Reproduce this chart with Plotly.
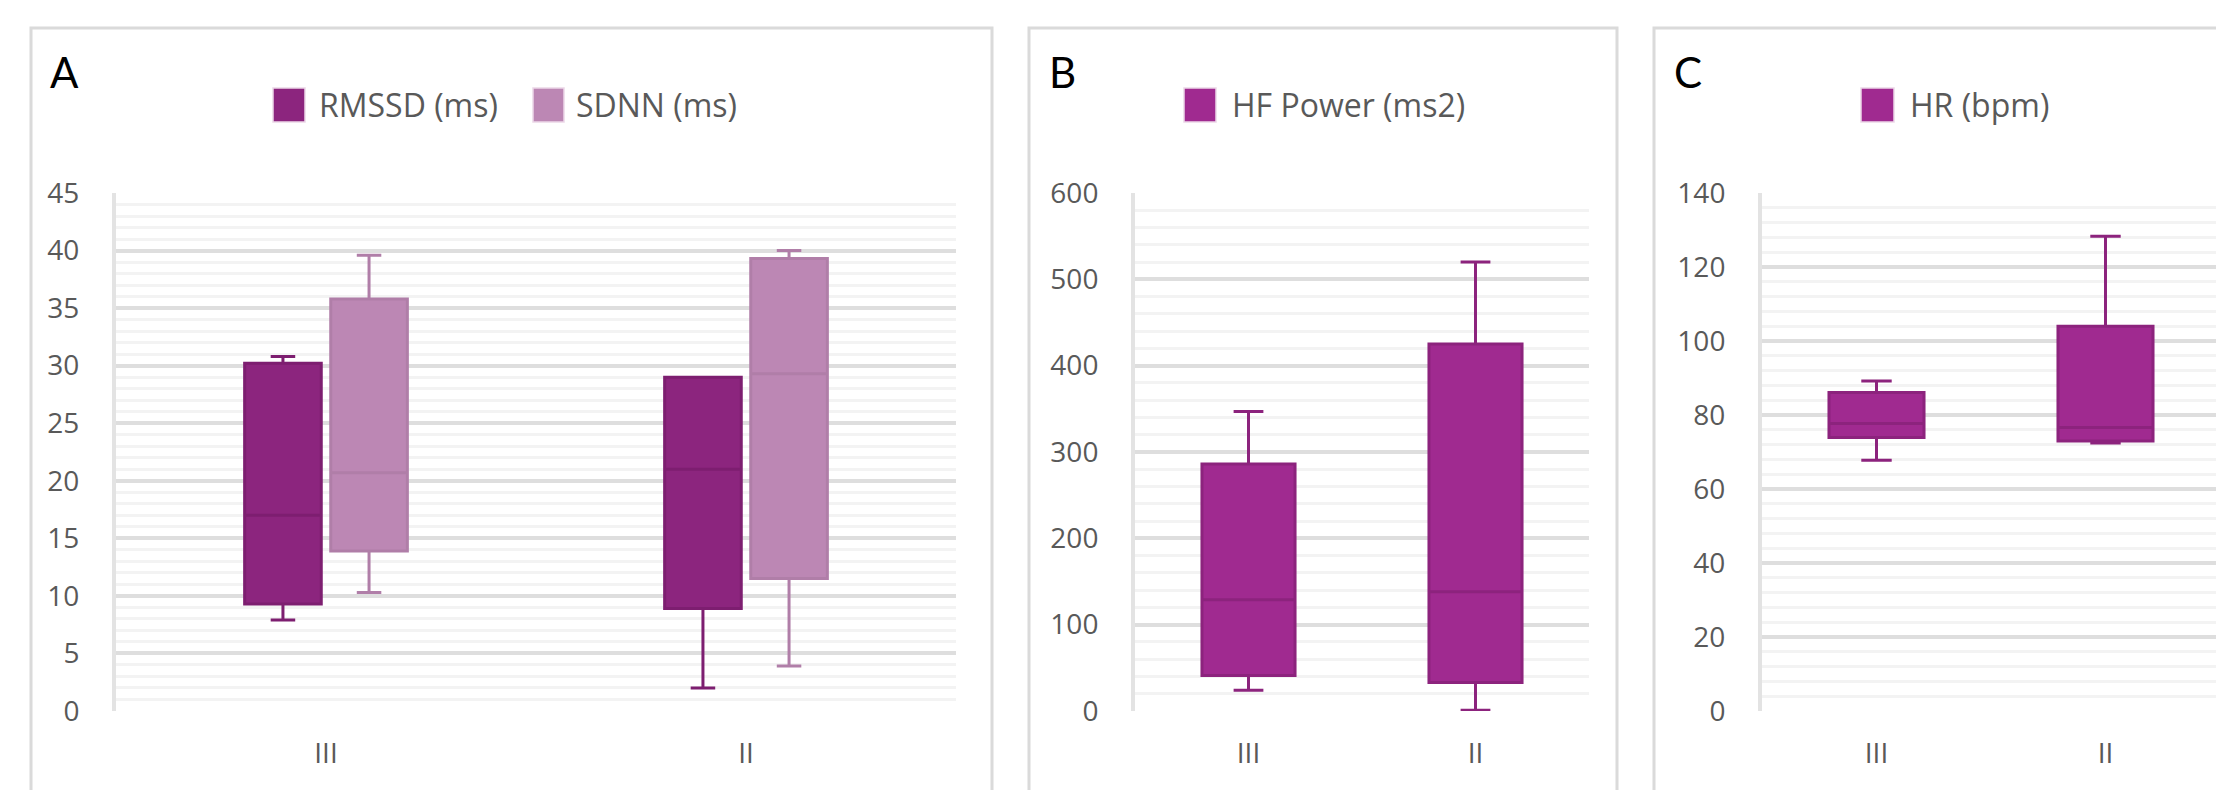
import plotly.graph_objects as go

# window is 2224x790; the page body has an 8px margin, so the figure is
# made 8px smaller and all pixel targets are shifted by 8px.
WIN_W, WIN_H = 2224, 790
OFF = 8
W, H = WIN_W - OFF, WIN_H - OFF

# ---------------- data ----------------
categories = ["III", "II"]

rmssd_min = [7.9, 2.0]
rmssd_q1 = [9.3, 8.9]
rmssd_med = [17.0, 21.0]
rmssd_q3 = [30.2, 29.0]
rmssd_max = [30.8, 29.0]

sdnn_min = [10.3, 3.9]
sdnn_q1 = [13.9, 11.5]
sdnn_med = [20.7, 29.3]
sdnn_q3 = [35.8, 39.3]
sdnn_max = [39.6, 40.0]

hf_min = [24, 1]
hf_q1 = [41, 33]
hf_med = [129, 138]
hf_q3 = [286, 425]
hf_max = [347, 520]

hr_min = [67.8, 72.4]
hr_q1 = [73.9, 73.0]
hr_med = [77.7, 76.6]
hr_q3 = [86.1, 104.0]
hr_max = [89.2, 128.3]

# ---------------- styles ----------------
C_RMSSD = "#8C257E"
C_RMSSD_LINE = "#7D1E70"
C_SDNN = "#BC87B4"
C_SDNN_LINE = "#B07EA8"
C_HF = "#A02A90"
C_HF_LINE = "#8C237D"

TXT = "#595959"
FONT = "Open Sans"
MAJ = "#DEDEDE"
MIN = "#F3F3F3"


def px(x):
    return (x - OFF) / W


def py(y):
    return 1 - (y - OFF) / H


fig = go.Figure()


def add_box(name, q1, med, q3, lo, hi, fill, line, xa, ya, width=None, og=None, ag=None):
    kw = {}
    if width is not None:
        kw["width"] = width
    if og is not None:
        kw["offsetgroup"] = og
        kw["alignmentgroup"] = ag
    fig.add_trace(go.Box(
        name=name, x=categories, q1=q1, median=med, q3=q3,
        lowerfence=lo, upperfence=hi, boxpoints=False,
        fillcolor=fill, line=dict(color=line, width=3),
        whiskerwidth=0.32, xaxis=xa, yaxis=ya, showlegend=False,
        hoverinfo="skip", **kw))


add_box("RMSSD (ms)", rmssd_q1, rmssd_med, rmssd_q3, rmssd_min, rmssd_max,
        C_RMSSD, C_RMSSD_LINE, "x", "y", og="rmssd", ag="A")
add_box("SDNN (ms)", sdnn_q1, sdnn_med, sdnn_q3, sdnn_min, sdnn_max,
        C_SDNN, C_SDNN_LINE, "x", "y", og="sdnn", ag="A")
add_box("HF Power (ms2)", hf_q1, hf_med, hf_q3, hf_min, hf_max,
        C_HF, C_HF_LINE, "x2", "y2", width=0.41)
add_box("HR (bpm)", hr_q1, hr_med, hr_q3, hr_min, hr_max,
        C_HF, C_HF_LINE, "x3", "y3", width=0.415)

ydom = [py(711), py(193)]


def xaxis(dom, anchor):
    return dict(domain=dom, anchor=anchor, type="category",
                categoryorder="array", categoryarray=categories,
                range=[-0.5, 1.5], automargin=False,
                showgrid=False, zeroline=False, showline=False,
                ticks="", ticklabelstandoff=23,
                tickfont=dict(family=FONT, size=28, color=TXT))


def yaxis(anchor, rng, dt, mdt):
    return dict(domain=ydom, anchor=anchor, range=rng, dtick=dt, automargin=False,
                showgrid=True, gridcolor=MAJ, gridwidth=4,
                minor=dict(dtick=mdt, showgrid=True, gridcolor=MIN, gridwidth=3),
                zeroline=False, showline=True, linecolor="#E3E3E3", linewidth=4,
                ticks="", ticklabelstandoff=27,
                tickfont=dict(family=FONT, size=28, color=TXT))


fig.update_layout(
    width=W, height=H,
    margin=dict(l=0, r=0, t=0, b=0, pad=0),
    paper_bgcolor="white", plot_bgcolor="white",
    boxmode="group", boxgap=0.59, boxgroupgap=0.11,
    showlegend=False,
    xaxis=xaxis([px(116), px(956)], "y"),
    yaxis=yaxis("x", [0, 45], 5, 1),
    xaxis2=xaxis([px(1135), px(1589)], "y2"),
    yaxis2=yaxis("x2", [0, 600], 100, 20),
    xaxis3=xaxis([px(1762), px(2220)], "y3"),
    yaxis3=yaxis("x3", [0, 140], 20, 4),
)

shapes = []
# panel frames
for x0, x1 in [(31, 992), (1029, 1617), (1654, 2320)]:
    shapes.append(dict(type="rect", xref="paper", yref="paper",
                       x0=px(x0), x1=px(x1), y0=-0.2, y1=py(28),
                       line=dict(color="#DADADA", width=3), fillcolor="rgba(0,0,0,0)",
                       layer="below"))

annotations = []
# panel letters
for letter, x in [("A", 48), ("B", 1047), ("C", 1672)]:
    annotations.append(dict(text=letter, xref="paper", yref="paper",
                            x=px(x), y=py(72), xanchor="left", yanchor="middle",
                            showarrow=False,
                            font=dict(family="Lato", size=42, color="black")))

# legends
legend_items = [
    ("RMSSD (ms)", C_RMSSD, 273, 305, 317),
    ("SDNN (ms)", C_SDNN, 533, 564, 574),
    ("HF Power (ms2)", C_HF, 1184, 1216, 1230),
    ("HR (bpm)", C_HF, 1861, 1894, 1908),
]
for label, col, sx0, sx1, tx in legend_items:
    shapes.append(dict(type="rect", xref="paper", yref="paper",
                       x0=px(sx0), x1=px(sx1), y0=py(122), y1=py(88),
                       fillcolor=col, line=dict(color="#EBD7E8", width=1.5)))
    annotations.append(dict(text=label, xref="paper", yref="paper",
                            x=px(tx), y=py(105), xanchor="left", yanchor="middle",
                            showarrow=False,
                            font=dict(family=FONT, size=32, color=TXT)))

fig.update_layout(shapes=shapes, annotations=annotations)

fig.write_html("out.html")
